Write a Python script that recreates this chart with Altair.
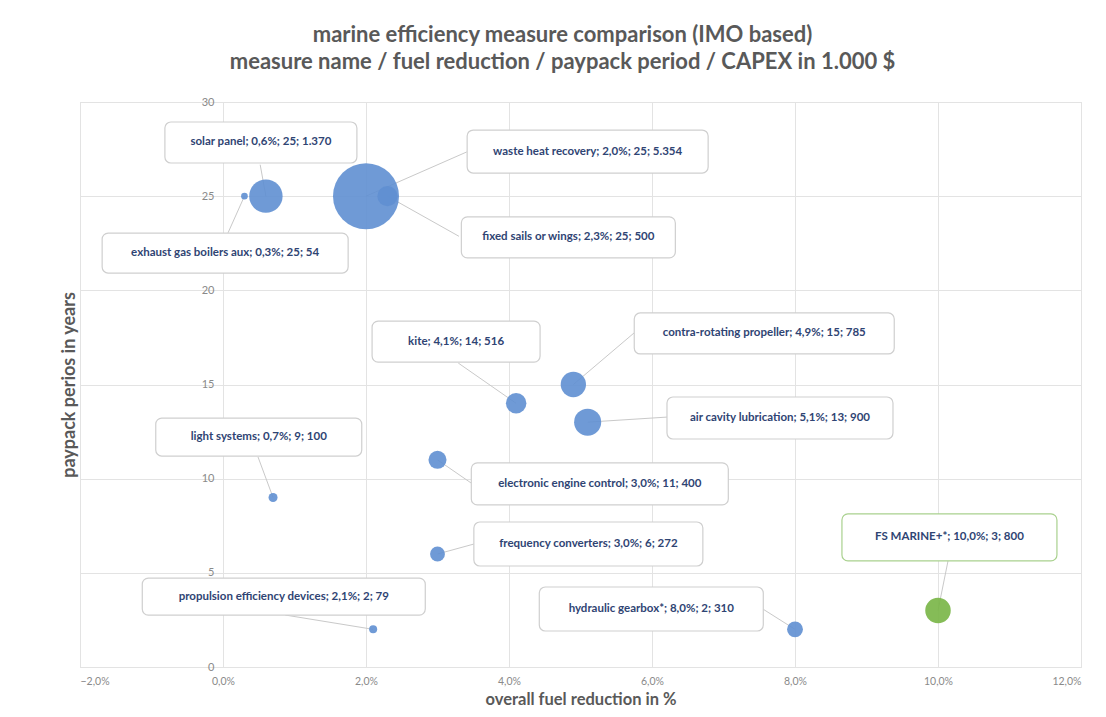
import altair as alt
import pandas as pd

# ---- data ----
names = ["exhaust gas boilers aux", "solar panel", "waste heat recovery", "fixed sails or wings",
         "kite", "contra-rotating propeller", "air cavity lubrication", "light systems",
         "electronic engine control", "frequency converters", "propulsion efficiency devices",
         "hydraulic gearbox*", "FS MARINE+*"]
fuel_reduction = [0.3, 0.6, 2.0, 2.3, 4.1, 4.9, 5.1, 0.7, 3.0, 3.0, 2.1, 8.0, 10.0]
payback_years = [25, 25, 25, 25, 14, 15, 13, 9, 11, 6, 2, 2, 3]
capex_k = [54, 1370, 5354, 500, 516, 785, 900, 100, 400, 272, 79, 310, 800]
label_texts = ["exhaust gas boilers aux; 0,3%; 25; 54", "solar panel; 0,6%; 25; 1.370",
               "waste heat recovery; 2,0%; 25; 5.354", "fixed sails or wings; 2,3%; 25; 500",
               "kite; 4,1%; 14; 516", "contra-rotating propeller; 4,9%; 15; 785",
               "air cavity lubrication; 5,1%; 13; 900", "light systems; 0,7%; 9; 100",
               "electronic engine control; 3,0%; 11; 400", "frequency converters; 3,0%; 6; 272",
               "propulsion efficiency devices; 2,1%; 2; 79", "hydraulic gearbox*; 8,0%; 2; 310",
               "FS MARINE+*; 10,0%; 3; 800"]
group = ["IMO"] * 12 + ["FS"]

# ---- annotation placement (data units for centres / leader ends, pixels for box size) ----
box_cx = [0.03, 0.53, 5.10, 4.83, 3.26, 7.57, 7.79, 0.50, 5.27, 5.11, 0.85, 5.99, 10.16]
box_cy = [21.98, 27.85, 27.37, 22.81, 17.28, 17.71, 13.22, 12.21, 9.72, 6.53, 3.74, 3.08, 6.88]
box_w_px = [246, 192, 241, 214, 168, 260, 226, 206, 257, 229, 283, 224, 215]
box_h_px = [40, 41, 43, 41, 41, 41, 42, 38, 42, 44, 37, 44, 47]
lead_x = [0.07, 0.52, 3.41, 3.30, 3.29, 5.75, 6.21, 0.49, 3.47, 3.51, 0.87, 7.55, 10.14]
lead_y = [23.05, 26.67, 27.35, 22.87, 16.14, 17.74, 13.27, 11.15, 9.77, 6.53, 2.76, 3.08, 5.63]

W, H = 1001, 565
X_DOM = [-2, 12]
Y_DOM = [0, 30]
px_x = W / (X_DOM[1] - X_DOM[0])
px_y = H / (Y_DOM[1] - Y_DOM[0])

df = pd.DataFrame({
    "name": names, "fuel": fuel_reduction, "payback": payback_years, "capex": capex_k,
    "label": label_texts, "group": group,
    "cx": box_cx, "cy": box_cy, "lx": lead_x, "ly": lead_y,
})
df["bx0"] = [c - w / 2 / px_x for c, w in zip(box_cx, box_w_px)]
df["bx1"] = [c + w / 2 / px_x for c, w in zip(box_cx, box_w_px)]
df["by0"] = [c - h / 2 / px_y for c, h in zip(box_cy, box_h_px)]
df["by1"] = [c + h / 2 / px_y for c, h in zip(box_cy, box_h_px)]

BLUE = "#5f8fd2"
GREEN = "#78b545"
FONT = "Lato"

xscale = alt.Scale(domain=X_DOM, nice=False, zero=False)
yscale = alt.Scale(domain=Y_DOM, nice=False, zero=False)

x_axis = alt.Axis(
    values=[-2, 0, 2, 4, 6, 8, 10, 12],
    labelExpr="replace(format(datum.value, '.1f'), '.', ',') + '%'",
    grid=True, gridColor="#e3e3e3", domain=False, ticks=False,
    labelColor="#8a8a8a", labelFontSize=10.5, labelFont=FONT, labelPadding=9,
    title="overall fuel reduction in %", titleFont=FONT, titleFontSize=16.5,
    titleColor="#595959", titleFontWeight="bold", titlePadding=5,
)
y_axis = alt.Axis(
    values=[0, 5, 10, 15, 20, 25, 30], offset=-143,
    grid=True, gridColor="#e3e3e3", domain=False, ticks=False,
    labelColor="#8a8a8a", labelFontSize=11, labelFont=FONT, labelPadding=9,
    title="paypack perios in years", titleFont=FONT, titleFontSize=18,
    titleColor="#595959", titleFontWeight="bold", titleX=-145, titleY=H / 2,
)

color_scale = alt.Scale(domain=["IMO", "FS"], range=[BLUE, GREEN])
stroke_scale = alt.Scale(domain=["IMO", "FS"], range=["#cfcfcf", "#a9d18e"])

base = alt.Chart(df)

leaders = base.mark_rule(color="#c9c9c9", strokeWidth=1).encode(
    x=alt.X("fuel:Q", scale=xscale, axis=x_axis),
    y=alt.Y("payback:Q", scale=yscale, axis=y_axis),
    x2="lx:Q", y2="ly:Q",
)

bubbles = base.mark_circle(opacity=0.9).encode(
    x=alt.X("fuel:Q", scale=xscale),
    y=alt.Y("payback:Q", scale=yscale),
    size=alt.Size("capex:Q", scale=alt.Scale(domain=[0, 5354], range=[0, 4356], zero=True), legend=None),
    color=alt.Color("group:N", scale=color_scale, legend=None),
    order=alt.Order("capex:Q", sort="descending"),
)

boxes = base.mark_rect(fill="white", cornerRadius=6, strokeWidth=1.2).encode(
    x=alt.X("bx0:Q", scale=xscale), x2="bx1:Q",
    y=alt.Y("by0:Q", scale=yscale), y2="by1:Q",
    stroke=alt.Stroke("group:N", scale=stroke_scale, legend=None),
)

texts = base.mark_text(font=FONT, fontSize=11.5, fontWeight="bold", color="#2f4473").encode(
    x=alt.X("cx:Q", scale=xscale),
    y=alt.Y("cy:Q", scale=yscale),
    text="label:N",
)

chart = alt.layer(leaders, bubbles, boxes, texts).properties(
    width=W, height=H,
    autosize=alt.AutoSizeParams(type="none"),
    padding={"left": 72, "top": 94, "right": 17, "bottom": 42},
    title=alt.TitleParams(
        text=["marine efficiency measure comparison (IMO based)",
              "measure name / fuel reduction / paypack period / CAPEX in 1.000 $"],
        font=FONT, fontSize=22, fontWeight="bold", color="#595959",
        lineHeight=27, anchor="middle", dx=-18, offset=22,
    ),
).configure_view(stroke="#c3cfe6", strokeWidth=1).configure(background="white")

chart.save("out.html", embed_options={"renderer": "svg", "actions": False})
